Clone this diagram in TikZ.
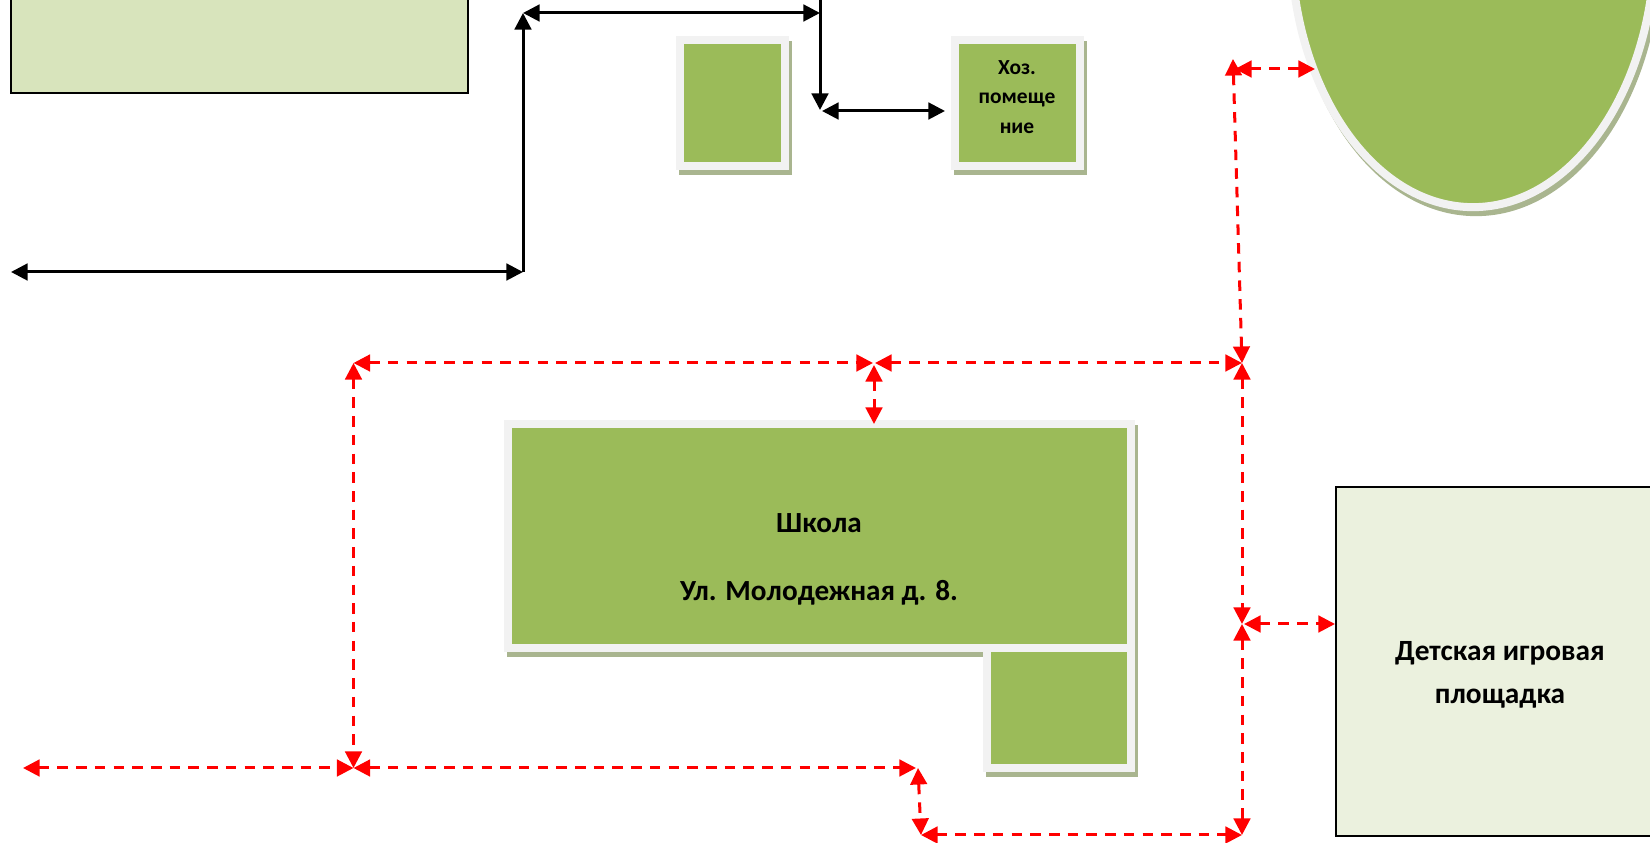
\documentclass[tikz,border=0pt]{standalone}
\usepackage{fontspec}
\setmainfont{Carlito}
\usetikzlibrary{arrows.meta,shapes.geometric}
\definecolor{roomgreen}{HTML}{9BBB59}
\definecolor{roomedge}{HTML}{F2F2F2}
\definecolor{roomshadow}{HTML}{A9B58F}
\definecolor{yardgreen}{HTML}{D8E4BC}
\definecolor{playgreen}{HTML}{EBF1DE}
\tikzset{
    roombox/.style={draw=roomedge,fill=roomgreen,line width=0.08cm,inner sep=0pt,
        preaction={draw=roomshadow,fill=roomshadow,transform canvas={shift={(0.03cm,-0.05cm)}}}},
    plainbox/.style={draw=black,line width=0.02cm,inner sep=0pt},
    blackline/.style={black,line width=0.03cm},
    redline/.style={red,line width=0.03cm,dash pattern=on 0.105cm off 0.082cm},
    tips/.style={{Triangle[length=0.165cm,width=0.165cm]}-{Triangle[length=0.165cm,width=0.165cm]}},
    endtip/.style={-{Triangle[length=0.165cm,width=0.165cm]}}
}
\begin{document}
\begin{tikzpicture}[x=0.01cm,y=0.01cm]
    \useasboundingbox (0,0) rectangle (1650,-843);
    \clip (0,0) rectangle (1650,-843);
    % boxes
    \node (yard) [plainbox,fill=yardgreen,minimum width=4.57cm,minimum height=1.42cm] at (239.5,-21.5) {};
    \node (play) [plainbox,fill=playgreen,minimum width=3.4cm,minimum height=3.49cm] at (1506,-661.5) {};
    \node (shed) [roombox,minimum width=1.05cm,minimum height=1.26cm] at (732.5,-103) {};
    \node (store) [roombox,minimum width=1.25cm,minimum height=1.26cm] at (1017.5,-103) {};
    \node (pond) [ellipse,roombox,minimum width=3.64cm,minimum height=5.34cm] at (1473,60) {};
    \node (school) [roombox,minimum width=6.23cm,minimum height=2.24cm] at (819.5,-536) {};
    \node (wing) [roombox,minimum width=1.44cm,minimum height=1.2cm] at (1059,-708) {};
    % texts
    \node (storetext) [font=\fontsize{6.1}{8.3}\selectfont\bfseries,align=center] at (1017,-97) {Хоз.\\помеще\\ние};
    \node (schooltext) [font=\fontsize{8.3}{19.3}\selectfont\bfseries,align=center] at (819,-559) {Школа\\Ул. Молодежная д. 8.};
    \node (playtext) [font=\fontsize{8.35}{12.2}\selectfont\bfseries,align=center] at (1500,-675) {Детская игровая\\площадка};
    % points
    \coordinate (a) at (11,-272);
    \coordinate (b) at (523,-272);
    \coordinate (c) at (523,-13);
    \coordinate (d) at (820,-13);
    \coordinate (e) at (820,0);
    \coordinate (f) at (820,-110);
    \coordinate (g) at (822,-111);
    \coordinate (h) at (945,-111);
    \coordinate (p) at (1233,-59);
    \coordinate (q) at (1235,-69);
    \coordinate (r) at (1315,-69);
    \coordinate (s) at (1242,-363);
    \coordinate (t) at (875,-363);
    \coordinate (u) at (873,-363);
    \coordinate (v) at (353.5,-363);
    \coordinate (w) at (874,-365);
    \coordinate (x) at (874,-424);
    \coordinate (j) at (1242,-624);
    \coordinate (k) at (1244,-624);
    \coordinate (l) at (1335,-624);
    \coordinate (m) at (1242,-835);
    \coordinate (n) at (921,-835);
    \coordinate (o) at (918,-768);
    \coordinate (y) at (916,-768);
    \coordinate (z) at (353.5,-768);
    \coordinate (z2) at (23,-768);
    % black arrows
    \draw [blackline,tips] (a) -- (b);
    \draw [blackline,endtip] (b) -- (c);
    \draw [blackline,tips] (c) -- (d);
    \draw [blackline,endtip] (e) -- (f);
    \draw [blackline,tips] (g) -- (h);
    % red arrows
    \draw [redline,tips] (p) -- (s);
    \draw [redline,tips] (q) -- (r);
    \draw [redline,tips] (t) -- (s);
    \draw [redline,tips] (v) -- (u);
    \draw [redline,tips] (w) -- (x);
    \draw [redline,tips] (v) -- (z);
    \draw [redline,tips] (s) -- (j);
    \draw [redline,tips] (j) -- (m);
    \draw [redline,tips] (k) -- (l);
    \draw [redline,tips] (n) -- (m);
    \draw [redline,tips] (o) -- (n);
    \draw [redline,tips] (z) -- (y);
    \draw [redline,tips] (z2) -- (z);
\end{tikzpicture}
\end{document}
